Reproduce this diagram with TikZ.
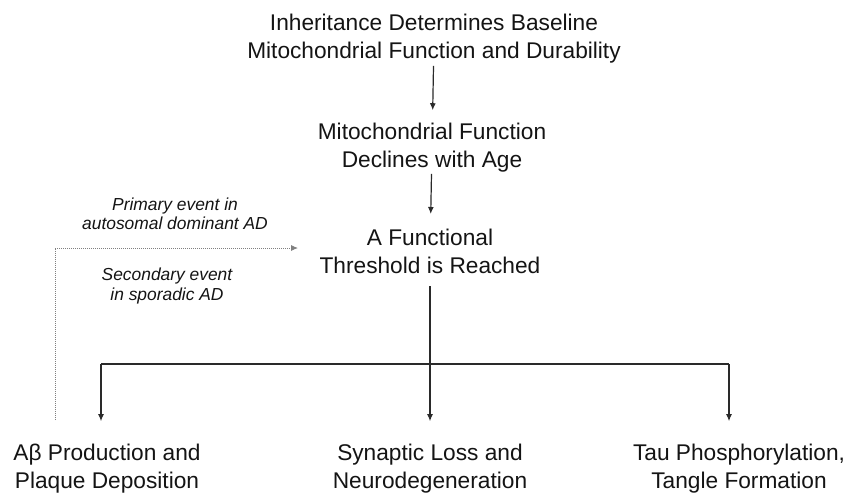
\documentclass[tikz,border=0pt]{standalone}
\usepackage{fontspec}
\setmainfont{Liberation Sans}
\usetikzlibrary{arrows.meta}
\definecolor{ink}{HTML}{141414}
\definecolor{wire}{HTML}{2A2A2A}
\tikzset{
  big/.style={align=center, inner sep=1pt, text=ink, font=\fontsize{22.7}{28}\selectfont},
  note/.style={align=center, inner sep=1pt, text=ink, font=\fontsize{17.4}{19.5}\selectfont\itshape},
  arr/.style={-{Latex[length=7pt,width=6pt]}, wire, line width=1.2pt},
  dotarr/.style={-{Latex[length=7pt,width=6pt]}, gray, line width=0.9pt, dash pattern=on 1pt off 1pt}
}
\begin{document}
\begin{tikzpicture}[x=1pt, y=-1pt]
				\useasboundingbox (0,0) rectangle (846,493);
				% main column
				\node[big] (title) at (434,39) {Inheritance Determines Baseline\\Mitochondrial Function and Durability};
				\node[big] (mito) at (432,148) {Mitochondrial Function\\Declines with Age};
				\node[big] (thresh) at (430,251.5) {A Functional\\Threshold is Reached};
				% outcomes
				\node[big] (abeta) at (107,469) {Aβ Production and\\Plaque Deposition};
				\node[big] (synap) at (430,469) {Synaptic Loss and\\Neurodegeneration};
				\node[big] (tau) at (739,469) {Tau Phosphorylation,\\Tangle Formation};
				% side notes
				\node[note] (primary) at (175,214) {Primary event in\\autosomal dominant AD};
				\node[note] (secondary) at (167,286) {Secondary event\\in sporadic AD};

				\coordinate (split) at (430,364);
				\coordinate (barL) at (101,364);
				\coordinate (barR) at (729,364);
				\coordinate (dotfoot) at (55,420);
				\coordinate (dottip) at (298,248);

				\draw[arr, shorten <=1pt, shorten >=12pt] (title) -- (mito);
				\draw[arr, shorten <=0pt, shorten >=14pt] (mito) -- (thresh);
				\draw[wire, line width=1.2pt, shorten <=11pt] (thresh) -- (split);
				\draw[wire, line width=1.2pt] (barL) -- (barR);
				\draw[arr, shorten >=22pt] (split) -- (synap);
				\draw[arr, shorten >=22pt] (barL) -- (abeta.north -| barL);
				\draw[arr, shorten >=22pt] (barR) -- (tau.north -| barR);
				\draw[dotarr] (dotfoot) |- (dottip);
\end{tikzpicture}
\end{document}
